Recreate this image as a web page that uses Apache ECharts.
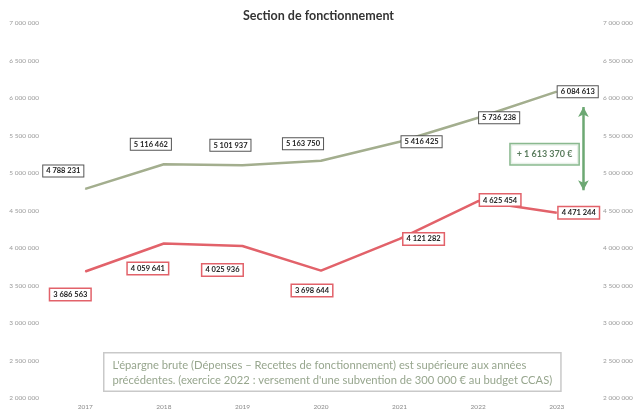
<!DOCTYPE html>
<html>
<head>
<meta charset="utf-8">
<script src="https://cdn.jsdelivr.net/npm/echarts@6/dist/echarts.min.js"></script>
<style>
  html, body { margin: 0; padding: 0; background: #fff; }
  #chart { width: 637px; height: 414px; }
</style>
</head>
<body>
<div id="chart"></div>
<script>
// données
const years = ['2017', '2018', '2019', '2020', '2021', '2022', '2023'];
const recettes = [4788231, 5116462, 5101937, 5163750, 5416425, 5736238, 6084613];
const depenses = [3686563, 4059641, 4025936, 3698644, 4121282, 4625454, 4471244];
const yTicks = [2000000, 7000000, 500000]; // min, max, pas

// flèche d'écart en 2023
const gapText = '+ 1 613 370 €';
const arrowTop = 5880000;
const arrowBottom = 4770000;
const gapLabelY = 5250000;
const noteLines = [
    "L'épargne brute (Dépenses \u2013 Recettes de fonctionnement) est supérieure aux années",
    "précédentes. (exercice 2022 : versement d'une subvention de 300 000 € au budget CCAS)"
];

// décalage des étiquettes (px) par point
const recettesOffsets = [[-22, -18], [-13, -20], [-12, -20], [-18, -17], [22, 0], [21, 0], [21, 0]];
const depensesOffsets = [[-15, 23], [-16, 25], [-20, 24], [-9, 20], [24, 0], [22, -1], [22, 0]];

const fmt = v => String(v).replace(/\B(?=(\d{3})+(?!\d))/g, ' ');

const chart = echarts.init(document.getElementById('chart'));

const green = '#a3ae8e';
const red = '#e2626a';
const arrowGreen = '#6da873';

const labelBase = {
    show: true,
    position: 'inside',
    formatter: p => fmt(p.value),
    fontFamily: 'Lato',
    fontWeight: 'bold',
    fontSize: 7.5,
    color: '#222',
    backgroundColor: '#fff',
    padding: [2, 3, 1, 3]
};

const yAxisBase = {
    type: 'value',
    min: yTicks[0],
    max: yTicks[1],
    interval: yTicks[2],
    splitLine: {show: false},
    axisLine: {show: false},
    axisTick: {show: false},
    axisLabel: {
        formatter: v => fmt(v),
        color: '#9a9a9a',
        fontSize: 6.5,
        fontFamily: 'Lato',
        margin: 7
    }
};

chart.setOption({
    animation: false,
    title: {
        text: 'Section de fonctionnement',
        left: 'center',
        top: 4,
        textStyle: {fontFamily: 'Lato', fontWeight: 'bold', fontSize: 12.5, color: '#333'}
    },
    grid: {left: 46, right: 41, top: 23, bottom: 16},
    xAxis: [
        {
            type: 'category',
            data: years,
            axisLine: {show: false},
            axisTick: {show: false},
            axisLabel: {color: '#8a8a8a', fontSize: 6.5, fontFamily: 'Lato', margin: 5}
        },
        {type: 'value', min: 0, max: 7, show: false}
    ],
    yAxis: [
        Object.assign({position: 'left'}, yAxisBase),
        Object.assign({position: 'right'}, yAxisBase)
    ],
    series: [
        {
            name: 'Recettes',
            type: 'line',
            data: recettes.map((v, i) => ({value: v, label: {offset: recettesOffsets[i]}})),
            symbol: 'circle',
            symbolSize: 1,
            lineStyle: {color: green, width: 2.5},
            itemStyle: {color: green},
            label: Object.assign({}, labelBase, {borderColor: '#555', borderWidth: 1}),
            z: 3
        },
        {
            name: 'Dépenses',
            type: 'line',
            data: depenses.map((v, i) => ({value: v, label: {offset: depensesOffsets[i]}})),
            symbol: 'circle',
            symbolSize: 1,
            lineStyle: {color: red, width: 2.5},
            itemStyle: {color: red},
            label: Object.assign({}, labelBase, {borderColor: red, borderWidth: 1.5}),
            z: 3
        },
        {
            name: 'Ecart',
            type: 'scatter',
            xAxisIndex: 1,
            data: [[6.84, gapLabelY]],
            symbolSize: 0,
            silent: true,
            label: {
                show: true,
                position: 'left',
                distance: 5,
                formatter: gapText,
                fontFamily: 'Lato',
                fontWeight: 'bold',
                fontSize: 9,
                color: '#2f5a33',
                backgroundColor: '#fff',
                borderColor: arrowGreen,
                borderWidth: 1.5,
                padding: [6, 6, 5, 6]
            },
            markLine: {
                silent: true,
                symbol: ['arrow', 'arrow'],
                symbolSize: [8, 10],
                label: {show: false},
                lineStyle: {color: arrowGreen, width: 2.5, type: 'solid'},
                data: [[{coord: [6.84, arrowTop]}, {coord: [6.84, arrowBottom]}]]
            },
            z: 4
        }
    ],
    graphic: [
        {
            type: 'text',
            left: 103,
            top: 352,
            silent: true,
            style: {
                text: noteLines.join('\n'),
                fontFamily: 'Lato',
                fontSize: 11.2,
                lineHeight: 15,
                fill: '#97a68e',
                backgroundColor: '#fff',
                borderColor: '#c9c9c9',
                borderWidth: 1.5,
                padding: [4, 8, 3, 8]
            }
        }
    ]
});
</script>
</body>
</html>
